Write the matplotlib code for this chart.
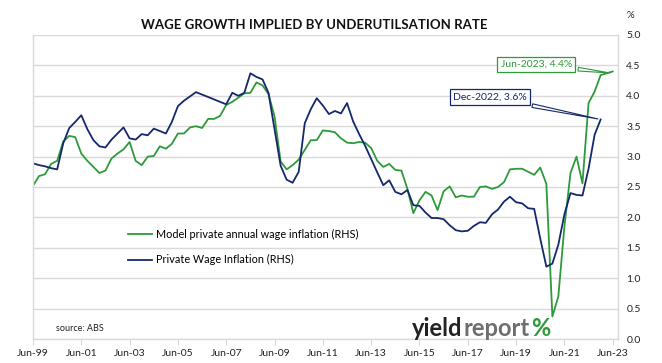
import pandas as pd
import matplotlib.pyplot as plt
from matplotlib.ticker import MultipleLocator, FormatStrFormatter
import matplotlib.dates as mdates

plt.rcParams['font.family'] = ['Lato', 'DejaVu Sans']

# quarterly values, Jun-99 onwards
model_wage = [
    2.52, 2.68, 2.71, 2.88, 2.93, 3.25, 3.34, 3.32, 3.05, 2.93, 2.83, 2.73,
    2.77, 2.97, 3.05, 3.12, 3.24, 2.93, 2.86, 3.00, 3.01, 3.17, 3.13, 3.21,
    3.38, 3.38, 3.48, 3.50, 3.47, 3.62, 3.62, 3.67, 3.85, 3.90, 3.97, 4.04,
    4.05, 4.22, 4.17, 4.03, 3.66, 2.92, 2.79, 2.86, 2.95, 3.11, 3.27, 3.27,
    3.43, 3.42, 3.40, 3.30, 3.23, 3.22, 3.24, 3.23, 3.14, 2.93, 2.83, 2.88,
    2.78, 2.77, 2.47, 2.07, 2.28, 2.42, 2.36, 2.12, 2.43, 2.51, 2.33, 2.36,
    2.34, 2.34, 2.50, 2.51, 2.47, 2.50, 2.58, 2.79, 2.80, 2.80, 2.75, 2.70,
    2.82, 2.55, 0.37, 0.70, 1.85, 2.73, 3.00, 2.56, 3.88, 4.07, 4.34, 4.37,
    4.40,
]
private_wpi = [
    2.89, 2.86, 2.84, 2.81, 2.79, 3.22, 3.47, 3.57, 3.68, 3.45, 3.27, 3.17,
    3.15, 3.28, 3.38, 3.48, 3.30, 3.28, 3.37, 3.35, 3.46, 3.42, 3.38, 3.57,
    3.83, 3.92, 3.99, 4.06, 4.02, 3.98, 3.94, 3.90, 3.86, 4.05, 4.00, 4.05,
    4.37, 4.31, 4.27, 4.05, 3.45, 2.85, 2.62, 2.57, 2.75, 3.55, 3.78, 3.96,
    3.84, 3.70, 3.75, 3.71, 3.88, 3.58, 3.37, 3.18, 2.96, 2.74, 2.53, 2.61,
    2.42, 2.38, 2.45, 2.20, 2.19, 2.08, 1.99, 1.99, 1.97, 1.87, 1.79, 1.77,
    1.78, 1.86, 1.92, 1.91, 2.05, 2.13, 2.26, 2.34, 2.25, 2.23, 2.15, 2.14,
    1.65, 1.19, 1.24, 1.55, 2.05, 2.40, 2.37, 2.36, 2.80, 3.36, 3.61,
]
dates_model = pd.date_range('1999-06-01', periods=len(model_wage), freq='3MS')
dates_wpi = pd.date_range('1999-06-01', periods=len(private_wpi), freq='3MS')
tick_dates = pd.date_range('1999-06-01', '2023-06-01', freq='24MS')

green = '#2e9a3a'
navy = '#14286b'
grey = '#d9d9d9'

fig = plt.figure(figsize=(6.62, 3.63), dpi=100)
ax = fig.add_axes([0.0498, 0.0661, 0.8837, 0.8375])

ax.plot(dates_model, model_wage, color=green, lw=1.3,
        label='Model private annual wage inflation (RHS)')
ax.plot(dates_wpi, private_wpi, color=navy, lw=1.3,
        label='Private Wage Inflation (RHS)')

ax.set_xlim(pd.Timestamp('1999-06-01'), pd.Timestamp('2023-08-20'))
ax.set_ylim(0, 5)
ax.yaxis.tick_right()
ax.yaxis.set_major_locator(MultipleLocator(0.5))
ax.yaxis.set_major_formatter(FormatStrFormatter('%.1f'))
ax.set_xticks(tick_dates)
ax.xaxis.set_major_formatter(mdates.DateFormatter('%b-%y'))
ax.tick_params(axis='x', colors=grey, labelcolor='#222222', labelsize=7.5,
               length=4, direction='out')
ax.tick_params(axis='y', length=0, labelsize=7.5, labelcolor='#222222', pad=6)
ax.grid(axis='y', color=grey, lw=1)
ax.set_axisbelow(True)
for side in ['left', 'right', 'bottom']:
    ax.spines[side].set_color(grey)
    ax.spines[side].set_linewidth(1)
ax.spines['top'].set_visible(False)

fig.text(0.475, 0.932, 'WAGE GROWTH IMPLIED BY UNDERUTILSATION RATE',
         ha='center', va='center', fontsize=9.5, fontweight='bold', color='#111111')
fig.text(0.953, 0.958, '%', ha='center', va='center', fontsize=7, color='#222222')

ax.legend(loc='upper left', bbox_to_anchor=(0.145, 0.395), frameon=False,
          fontsize=7.8, handlelength=2.3, handletextpad=0.3, labelspacing=1.35)

ax.text(0.04, 0.025, 'source: ABS', transform=ax.transAxes, fontsize=6.5,
        color='#222222')

# logo, pieces placed one after another
fig.canvas.draw()
r = fig.canvas.get_renderer()
x0 = 412
for word, col in [('yield', '#222222'), ('report', '#6e6e6e'), ('%', green)]:
    t = fig.text(x0 / 662, 1 - 336 / 363, word, fontsize=17, fontweight='bold', color=col)
    x0 = t.get_window_extent(r).x1 + 1

ax.annotate('Jun-2023, 4.4%', xy=(dates_model[-1], model_wage[-1] - 0.03),
            xytext=(pd.Timestamp('2020-04-01'), 4.52), fontsize=7.5, color=green,
            ha='center', va='center',
            bbox=dict(boxstyle='square,pad=0.3', fc='white', ec=green, lw=0.9),
            arrowprops=dict(arrowstyle='wedge,tail_width=0.35', fc='white', ec=green, lw=0.8))
ax.annotate('Dec-2022, 3.6%', xy=(dates_wpi[-1], private_wpi[-1]),
            xytext=(pd.Timestamp('2018-05-01'), 3.98), fontsize=7.5, color=navy,
            ha='center', va='center',
            bbox=dict(boxstyle='square,pad=0.3', fc='white', ec=navy, lw=0.9),
            arrowprops=dict(arrowstyle='wedge,tail_width=0.35', fc='white', ec=navy, lw=0.8))

fig.savefig('out.png', dpi=100)
